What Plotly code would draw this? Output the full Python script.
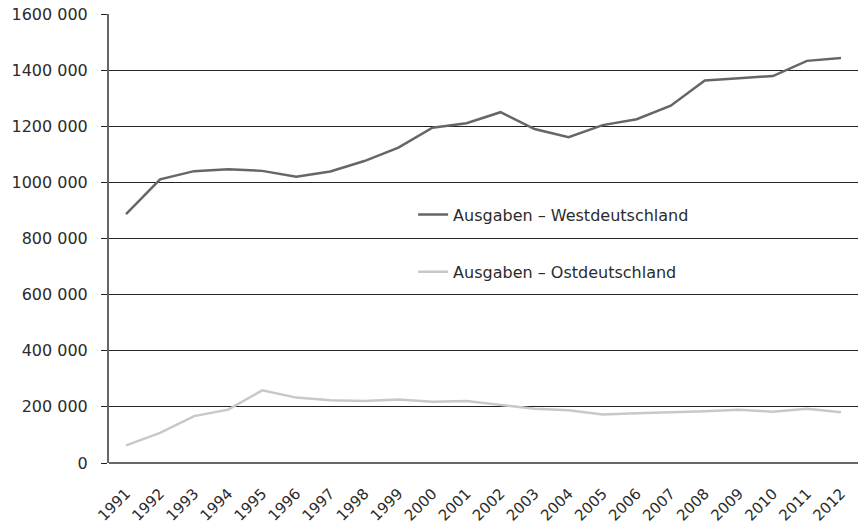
import plotly.graph_objects as go

# ---------- Daten ----------
jahre = [str(j) for j in range(1991, 2013)]

ausgaben_west = [887000, 1011000, 1040000, 1047000, 1041000, 1020000, 1039000,
                 1076000, 1124000, 1195000, 1211000, 1250000, 1190000, 1161000,
                 1204000, 1225000, 1273000, 1363000, 1371000, 1379000, 1433000,
                 1443000]

ausgaben_ost = [63000, 107000, 167000, 190000, 259000, 233000, 224000, 221000,
                226000, 218000, 221000, 208000, 193000, 188000, 173000, 177000,
                180000, 184000, 190000, 183000, 193000, 181000]

y_ticks = [0, 200000, 400000, 600000, 800000, 1000000, 1200000, 1400000, 1600000]
y_ticktext = ["0", "200 000", "400 000", "600 000", "800 000",
              "1000 000", "1200 000", "1400 000", "1600 000"]

FONT = "DejaVu Sans"
TXT = "#2b2b2b"

fig = go.Figure()

fig.add_trace(go.Scatter(
    x=jahre, y=ausgaben_west, mode="lines",
    name="Ausgaben – Westdeutschland",
    line=dict(color="#666666", width=2.5),
    legend="legend",
))
fig.add_trace(go.Scatter(
    x=jahre, y=ausgaben_ost, mode="lines",
    name="Ausgaben – Ostdeutschland",
    line=dict(color="#c8c8c8", width=2.5),
    legend="legend2",
))

leg_common = dict(
    font=dict(family=FONT, size=16, color=TXT),
    bgcolor="rgba(0,0,0,0)", borderwidth=0,
    xanchor="left", yanchor="middle",
)

fig.update_layout(
    width=860, height=528,
    margin=dict(l=109, r=2, t=14, b=65),
    paper_bgcolor="white", plot_bgcolor="white",
    font=dict(family=FONT, size=16, color=TXT),
    showlegend=True,
    legend=dict(x=0.406, y=0.553, **leg_common),
    legend2=dict(x=0.406, y=0.426, **leg_common),
)

fig.update_xaxes(
    type="category",
    range=[-0.5, len(jahre) - 0.5],
    automargin=False,
    tickangle=-45,
    showgrid=False,
    showline=False,
    ticks="",
    ticklabelstandoff=18,
    tickfont=dict(family=FONT, size=15, color=TXT),
)

fig.update_yaxes(
    range=[0, 1600000],
    automargin=False,
    tickvals=y_ticks, ticktext=y_ticktext,
    showgrid=True, gridcolor="#222222", gridwidth=1,
    zeroline=True, zerolinecolor="#666666", zerolinewidth=2,
    showline=True, linecolor="#666666", linewidth=2,
    ticks="outside", ticklen=6, tickcolor="#222222", tickwidth=1,
    ticklabelstandoff=10,
    tickfont=dict(family=FONT, size=16, color=TXT),
)

# Browser-Standardrand entfernen, damit die Grafik bei (0,0) beginnt
fig.write_html("out.html", config={"displayModeBar": False},
               post_script="document.body.style.margin='0';")
